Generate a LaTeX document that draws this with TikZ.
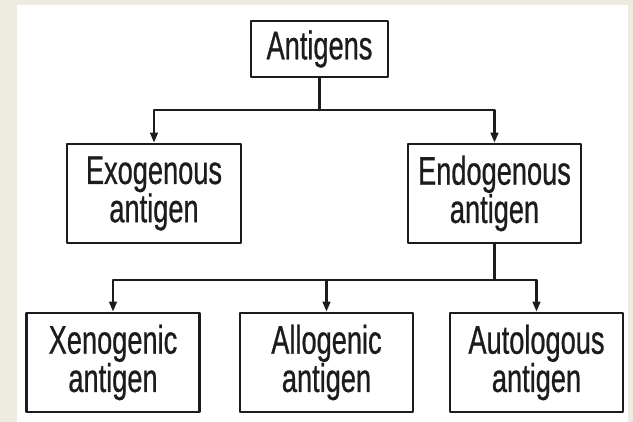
\documentclass[tikz,border=0pt]{standalone}
\usepackage{fontspec}
\setmainfont{Liberation Sans}[FakeStretch=0.68, FakeBold=0.6]
\usetikzlibrary{arrows.meta}
\definecolor{pagebg}{HTML}{EDEAE0}
\definecolor{ink}{HTML}{1C1C1C}

\begin{document}
\begin{tikzpicture}[x=1pt, y=-1pt, every node/.style={font=\fontsize{40}{36}\selectfont, text=ink}, line cap=round, line join=round]
  \tikzset{box/.style={draw=ink, line width=2.6pt, inner sep=0pt, align=center, minimum width=173pt, minimum height=99pt}, link/.style={draw=ink, line width=2.4pt}, arr/.style={link, -{Triangle[length=10pt, width=7.5pt]}}}

  % page
  \fill[pagebg] (0,0) rectangle (633,422);
  \fill[white] (17,5) rectangle (628,422);
  \useasboundingbox (0,0) rectangle (633,422);

  % top level
  \node[box, minimum width=137pt, minimum height=56pt] (ant) at (319.5,49) {Antigens};
  \coordinate (split1) at (ant.south |- 0,110);
  \draw[link] (ant) -- (split1);

  % second level
  \node[box, minimum width=174pt] (exo) at (154,193.5) {Exogenous\\antigen};
  \node[box] (endo) at (494.5,193.5) {Endogenous\\antigen};
  \foreach \n in {exo,endo}
    \draw[arr] (split1) -| (\n);

  % third level
  \coordinate (split2) at (endo.south |- 0,280);
  \draw[link] (endo) -- (split2);
  \foreach \n/\x/\t in {xeno/113/Xenogenic,allo/326.5/Allogenic,autol/536.5/Autologous} {
    \node[box] (\n) at (\x,362.5) {\t\\antigen};
    \draw[arr] (split2) -| (\n);
  }
\end{tikzpicture}
\end{document}
